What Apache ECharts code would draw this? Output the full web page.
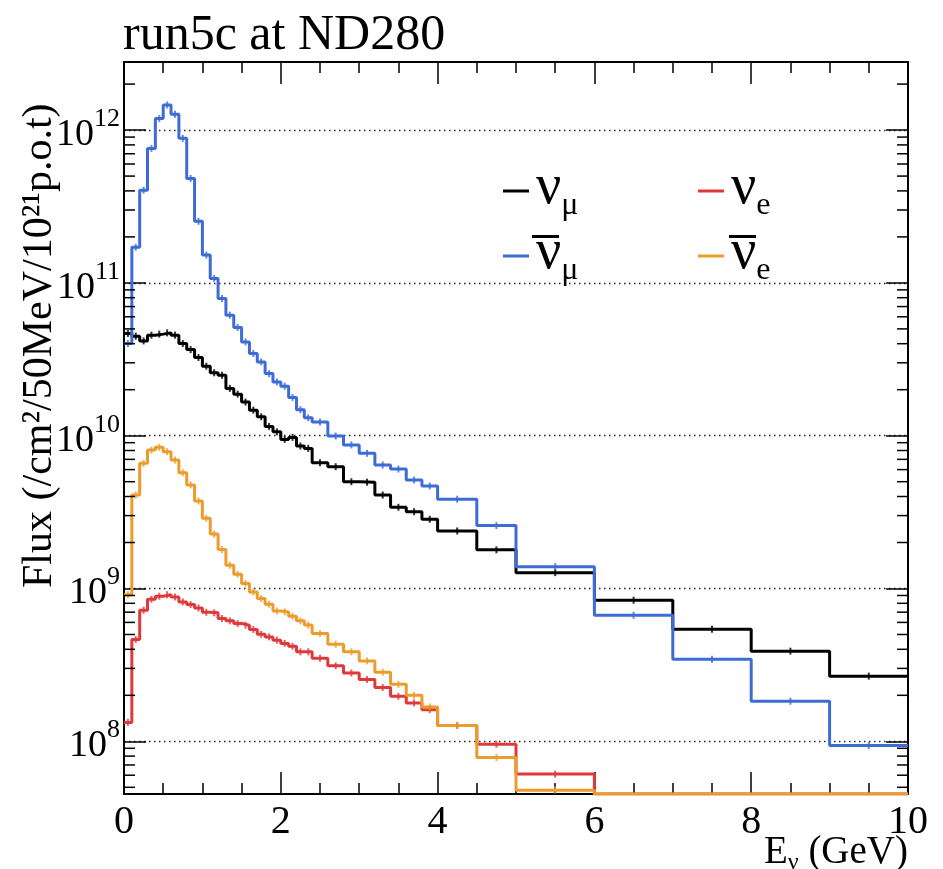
<!DOCTYPE html>
<html><head><meta charset="utf-8">
<script src="https://cdn.jsdelivr.net/npm/echarts@6/dist/echarts.min.js"></script>
<style>html,body{margin:0;padding:0;background:#fff}#c{width:943px;height:869px}</style>
</head><body><div id="c"></div>
<script>
// ---- data ----
const binEdges = [0,0.1,0.2,0.3,0.4,0.5,0.6,0.7,0.8,0.9,1.0,1.1,1.2,1.3,1.4,1.5,1.6,1.7,1.8,1.9,2.0,2.1,2.2,2.3,2.4,2.6,2.8,3.0,3.2,3.4,3.6,3.8,4.0,4.5,5,6,7,8,9,10];
const numu = [4.67e10,4.48e10,4.17e10,4.55e10,4.62e10,4.71e10,4.55e10,4.01e10,3.66e10,3.25e10,
  2.85e10,2.58e10,2.49e10,2.04e10,1.87e10,1.66e10,1.47e10,1.33e10,1.15e10,1.06e10,
  9.46e9,9.75e9,8.56e9,8.26e9,6.65e9,6.27e9,5.0e9,4.96e9,4.09e9,3.4e9,
  3.18e9,2.84e9,2.38e9,1.79e9,1.27e9,8.38e8,5.42e8,3.89e8,2.67e8];
const numubar = [4.01e10,1.71e11,4.04e11,7.59e11,1.19e12,1.46e12,1.27e12,8.83e11,4.83e11,2.53e11,
  1.52e11,1.07e11,7.9e10,6.15e10,5.11e10,4.11e10,3.45e10,3.04e10,2.55e10,2.25e10,
  2.11e10,1.78e10,1.48e10,1.31e10,1.23e10,9.96e9,8.7e9,7.67e9,6.43e9,6.05e9,
  5.13e9,4.69e9,3.84e9,2.58e9,1.39e9,6.68e8,3.44e8,1.83e8,9.4e7];
const nue = [1.33e8,4.64e8,7.21e8,8.5e8,8.9e8,9.1e8,8.8e8,8.17e8,7.86e8,7.46e8,
  6.99e8,6.93e8,6.36e8,6.14e8,5.9e8,5.75e8,5.39e8,5.02e8,4.82e8,4.59e8,
  4.37e8,4.19e8,3.85e8,3.85e8,3.5e8,3.12e8,2.8e8,2.54e8,2.25e8,1.97e8,
  1.78e8,1.61e8,1.27e8,9.57e7,6.1e7,0,0,0,0];
const nuebar = [9.1e8,4.09e9,6.59e9,8.05e9,8.39e9,7.85e9,6.93e9,5.73e9,4.76e9,3.74e9,
  2.88e9,2.27e9,1.8e9,1.42e9,1.24e9,1.08e9,9.5e8,8.6e8,7.89e8,7.13e8,
  7.03e8,6.59e8,6.14e8,5.76e8,5.07e8,4.32e8,3.85e8,3.36e8,2.83e8,2.36e8,
  2.0e8,1.68e8,1.27e8,7.83e7,4.79e7,0,0,0,0];
const xTickLabels = ['0','2','4','6','8','10'];
const seriesNames = ['numu','nue','numubar','nuebar'];
const legendTexts = {
  numu: '{n|ν}{s|μ}',
  nue: '{n|ν}{s|e}',
  numubar: '{n|ν}{s|μ}',
  nuebar: '{n|ν}{s|e}'
};
// ---- layout / style ----
const YMIN = 4.52e7, YMAX = 2.79e12;
const FONT = "'Liberation Serif','DejaVu Serif',serif";
const colors = {numu:'#000000', nue:'#e0393b', numubar:'#3d6cd6', nuebar:'#eb9c2c'};

function histLine(vals){
  const pts = [];
  for (let i=0;i<vals.length;i++){
    pts.push([binEdges[i], vals[i] > 0 ? vals[i] : YMIN]);
  }
  const last = vals[vals.length-1];
  pts.push([binEdges[vals.length], last > 0 ? last : YMIN]);
  return pts;
}
function errPts(vals){
  const pts = [];
  for (let i=0;i<vals.length;i++){
    if (vals[i] > 0) pts.push([(binEdges[i]+binEdges[i+1])/2, vals[i]]);
  }
  return pts;
}
const dataMap = {numu, nue, numubar, nuebar};
const series = [];
['nue','nuebar','numu','numubar'].forEach((k, idx)=>{
  series.push({
    name:k, type:'line', step:'end', data:histLine(dataMap[k]), showSymbol:false, symbol:'none',
    lineStyle:{color:colors[k], width:3}, itemStyle:{color:colors[k]}, z:3, zlevel:0, animation:false, silent:true
  });
  series.push({
    name:k+'_err', type:'scatter', data:errPts(dataMap[k]), symbol:'rect', symbolSize:[2,7],
    itemStyle:{color:colors[k]}, z:3, animation:false, silent:true
  });
});
// minor ticks of the log axis (2..9 x 10^n)
const minorVals = [];
for (let e=7;e<=12;e++){ for (let k=2;k<=9;k++){ const v=k*Math.pow(10,e); if (v>YMIN && v<YMAX) minorVals.push([0,v]); } }
series.push({
  type:'custom', name:'minor', silent:true, data:minorVals, encode:{x:0,y:1}, z:5, animation:false,
  renderItem:(params, api)=>{
    const p = api.coord([0, api.value(1)]);
    const cs = params.coordSys;
    return {type:'group', children:[
      {type:'line', shape:{x1:cs.x, y1:p[1], x2:cs.x+11, y2:p[1]}, style:{stroke:'#000', lineWidth:1.5}},
      {type:'line', shape:{x1:cs.x+cs.width-11, y1:p[1], x2:cs.x+cs.width, y2:p[1]}, style:{stroke:'#000', lineWidth:1.5}}
    ]};
  }
});

const legendPos = {numu:[503,160], nue:[698,160], numubar:[503,225], nuebar:[698,225]};
const legends = seriesNames.map(k=>({
  data:[k], left:legendPos[k][0], top:legendPos[k][1], icon:'rect', itemWidth:26, itemHeight:3, itemGap:0,
  selectedMode:false, padding:0,
  formatter:(name)=>legendTexts[name],
  textStyle:{padding:[0,0,0,2], rich:{
    n:{fontFamily:FONT, fontSize:56, color:'#000', verticalAlign:'bottom', padding:[0,0,6,0]},
    s:{fontFamily:FONT, fontSize:32, color:'#000', verticalAlign:'bottom'}
  }}
}));

const axisLineStyle = {color:'#000', width:2};
const option = {
  animation:false,
  backgroundColor:'#fff',
  title:{text:'run5c at ND280', left:118, top:6, textStyle:{fontFamily:FONT, fontWeight:'normal', fontSize:50, color:'#000'}},
  grid:{left:124, right:35, top:62, bottom:75, containLabel:false},
  legend:legends,
  xAxis:[
    {type:'value', min:0, max:10, interval:2, position:'bottom',
     axisLine:{show:true, onZero:false, lineStyle:axisLineStyle},
     axisTick:{show:true, inside:true, length:22, lineStyle:{color:'#000', width:1.5}},
     minorTick:{show:true, splitNumber:4, length:11, lineStyle:{color:'#000', width:1.5}},
     splitLine:{show:false},
     axisLabel:{fontFamily:FONT, fontSize:40, color:'#000', margin:8,
       formatter:(v)=>xTickLabels[Math.round(v/2)]}},
    {type:'value', min:0, max:10, interval:2, position:'top',
     axisLine:{show:true, onZero:false, lineStyle:axisLineStyle},
     axisTick:{show:true, inside:true, length:22, lineStyle:{color:'#000', width:1.5}},
     minorTick:{show:true, splitNumber:4, length:11, lineStyle:{color:'#000', width:1.5}},
     splitLine:{show:false}, axisLabel:{show:false}}
  ],
  yAxis:[
    {type:'log', logBase:10, min:YMIN, max:YMAX, position:'left',
     axisLine:{show:true, onZero:false, lineStyle:axisLineStyle},
     axisTick:{show:true, inside:true, length:22, lineStyle:{color:'#000', width:1.5}},
     splitLine:{show:true, showMinLine:false, showMaxLine:false, lineStyle:{color:'#222', width:1.3, type:[1.5,3.5]}},
     axisLabel:{showMinLabel:false, showMaxLabel:false, margin:4,
       formatter:(v)=>'{b|10}{s|'+Math.round(Math.log10(v))+'}',
       rich:{ b:{fontFamily:FONT, fontSize:38, color:'#000', padding:[10,0,0,0]},
              s:{fontFamily:FONT, fontSize:26, color:'#000', verticalAlign:'top'} }}},
    {type:'log', logBase:10, min:YMIN, max:YMAX, position:'right',
     axisLine:{show:true, onZero:false, lineStyle:axisLineStyle},
     axisTick:{show:true, inside:true, length:22, lineStyle:{color:'#000', width:1.5}},
     splitLine:{show:false}, axisLabel:{show:false}}
  ],
  graphic:[
    {type:'text', rotation:Math.PI/2, x:19, y:588, silent:true,
     style:{text:'Flux (/cm²/50MeV/10²¹p.o.t)', fontFamily:FONT, fontSize:42, fill:'#000', textAlign:'left', textVerticalAlign:'top'}},
    {type:'text', right:35, top:833, silent:true,
     style:{text:'{a|E}{s|ν}{a| (GeV)}', fill:'#000',
       rich:{a:{fontFamily:FONT, fontSize:39, color:'#000'}, s:{fontFamily:FONT, fontSize:24, color:'#000', verticalAlign:'bottom', padding:[20,0,0,0]}}}},
    // overline bars of the antineutrino symbols
    {type:'rect', silent:true, shape:{x:532, y:235, width:27, height:3}, style:{fill:'#000'}},
    {type:'rect', silent:true, shape:{x:729, y:235, width:27, height:3}, style:{fill:'#000'}}
  ],
  series:series
};
const chart = echarts.init(document.getElementById('c'), null, {renderer:'canvas'});
chart.setOption(option);
</script></body></html>
